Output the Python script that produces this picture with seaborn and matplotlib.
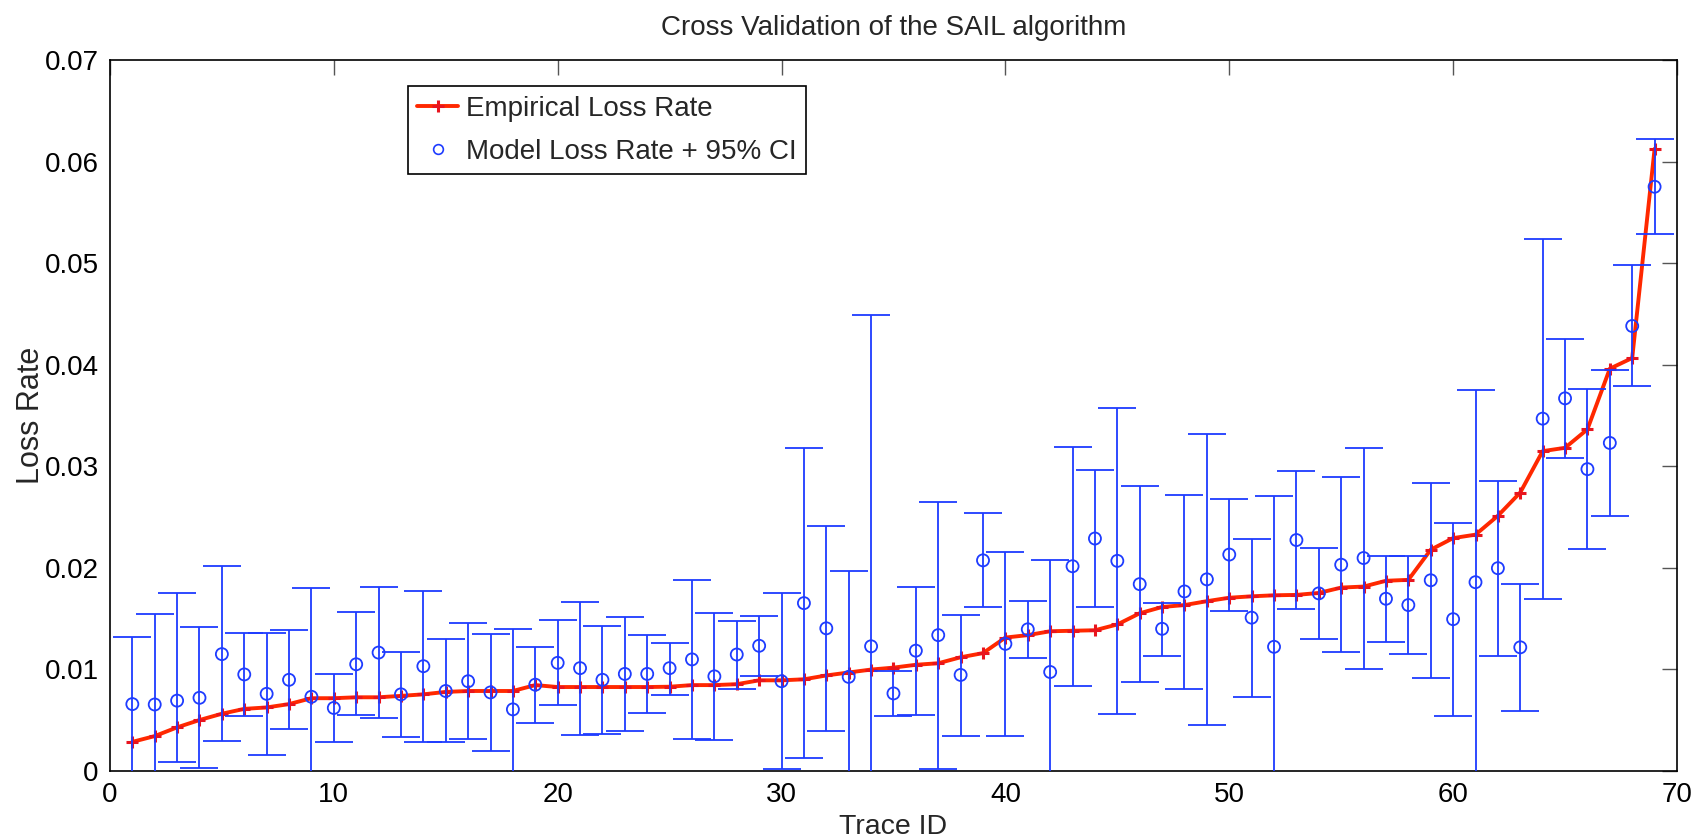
import numpy as np
import pandas as pd
import matplotlib
matplotlib.use("Agg")
import matplotlib.pyplot as plt
import seaborn as sns
from matplotlib.lines import Line2D

# ---- data ----
trace_id = list(range(1, 70))
empirical = [0.00287, 0.00344, 0.00430, 0.00502, 0.00564, 0.00612, 0.00626, 0.00659, 0.00717, 0.00717,
             0.00726, 0.00726, 0.00740, 0.00755, 0.00779, 0.00788, 0.00788, 0.00788, 0.00846, 0.00827,
             0.00827, 0.00827, 0.00827, 0.00827, 0.00830, 0.00846, 0.00846, 0.00855, 0.00893, 0.00893,
             0.00903, 0.00941, 0.00970, 0.00999, 0.01018, 0.01046, 0.01061, 0.01120, 0.01161, 0.01314,
             0.01338, 0.01376, 0.01381, 0.01386, 0.01443, 0.01553, 0.01615, 0.01634, 0.01672, 0.01706,
             0.01720, 0.01730, 0.01734, 0.01753, 0.01806, 0.01816, 0.01873, 0.01882, 0.02179, 0.02293,
             0.02327, 0.02513, 0.02742, 0.03149, 0.03182, 0.03364, 0.03961, 0.04066, 0.06125]
model = [0.00659, 0.00655, 0.00693, 0.00721, 0.01151, 0.00951, 0.00760, 0.00898, 0.00731, 0.00621,
         0.01051, 0.01166, 0.00755, 0.01032, 0.00788, 0.00884, 0.00774, 0.00607, 0.00850, 0.01065,
         0.01013, 0.00898, 0.00956, 0.00956, 0.01013, 0.01099, 0.00932, 0.01147, 0.01233, 0.00884,
         0.01653, 0.01405, 0.00927, 0.01228, 0.00764, 0.01185, 0.01338, 0.00946, 0.02074, 0.01252,
         0.01395, 0.00975, 0.02016, 0.02289, 0.02069, 0.01840, 0.01400, 0.01768, 0.01887, 0.02131,
         0.01510, 0.01223, 0.02274, 0.01749, 0.02031, 0.02097, 0.01696, 0.01634, 0.01878, 0.01495,
         0.01859, 0.01997, 0.01218, 0.03469, 0.03669, 0.02972, 0.03230, 0.04381, 0.05752]
ci_upper = [0.01319, 0.01543, 0.01749, 0.01414, 0.02016, 0.01362, 0.01362, 0.01390, 0.01806, 0.00960,
            0.01562, 0.01811, 0.01175, 0.01777, 0.01300, 0.01457, 0.01352, 0.01400, 0.01223, 0.01486,
            0.01667, 0.01429, 0.01515, 0.01338, 0.01261, 0.01882, 0.01553, 0.01481, 0.01529, 0.01749,
            0.03177, 0.02413, 0.01968, 0.04486, 0.00989, 0.01811, 0.02647, 0.01538, 0.02537, 0.02155,
            0.01672, 0.02078, 0.03187, 0.02967, 0.03574, 0.02809, 0.01653, 0.02714, 0.03321, 0.02680,
            0.02289, 0.02709, 0.02957, 0.02193, 0.02891, 0.03182, 0.02121, 0.02112, 0.02833, 0.02441,
            0.03751, 0.02852, 0.01840, 0.05241, 0.04257, 0.03760, 0.03951, 0.04979, 0.06221]
ci_lower = [-0.00100, -0.00100, 0.00086, 0.00033, 0.00296, 0.00540, 0.00162, 0.00411, -0.00100, 0.00287,
            0.00550, 0.00521, 0.00334, 0.00287, 0.00282, 0.00311, 0.00201, -0.00100, 0.00473, 0.00650,
            0.00354, 0.00363, 0.00397, 0.00569, 0.00750, 0.00311, 0.00301, 0.00812, 0.00932, 0.00024,
            0.00129, 0.00397, -0.00100, -0.00100, 0.00540, 0.00550, 0.00024, 0.00349, 0.01610, 0.00349,
            0.01113, -0.00100, 0.00841, 0.01610, 0.00564, 0.00874, 0.01137, 0.00812, 0.00449, 0.01577,
            0.00731, -0.00100, 0.01591, 0.01304, 0.01171, 0.01003, 0.01271, 0.01151, 0.00917, 0.00545,
            -0.00100, 0.01137, 0.00592, 0.01696, 0.03086, 0.02183, 0.02513, 0.03789, 0.05284]

x_ticks = [0, 10, 20, 30, 40, 50, 60, 70]
y_ticks = [0, 0.01, 0.02, 0.03, 0.04, 0.05, 0.06, 0.07]
y_tick_labels = ["0", "0.01", "0.02", "0.03", "0.04", "0.05", "0.06", "0.07"]

title = "Cross Validation of the SAIL algorithm"
x_label = "Trace ID"
y_label = "Loss Rate"
emp_label = "Empirical Loss Rate"
model_label = "Model Loss Rate + 95% CI"

df = pd.DataFrame({"trace": trace_id, "empirical": empirical, "model": model,
                   "upper": ci_upper, "lower": ci_lower})

# ---- styling ----
sns.set_theme(style="white")
plt.rcParams["font.family"] = ["Liberation Sans", "DejaVu Sans"]

RED = "#ff2800"
BLUE = "#1e3cff"

fig = plt.figure(figsize=(17.02, 8.40), dpi=100)
ax = fig.add_axes([0.0646, 0.0821, 0.9207, 0.8465])

# empirical line (drawn below the CI bars, as in the reference)
sns.lineplot(data=df, x="trace", y="empirical", ax=ax, color=RED, linewidth=2.8,
             marker="+", markersize=8, markeredgewidth=2.2, markeredgecolor="#e8141e",
             zorder=2, label=emp_label, legend=False)

# error bars (95% CI)
yerr = np.vstack([df["model"] - df["lower"], df["upper"] - df["model"]])
ax.errorbar(df["trace"], df["model"], yerr=yerr, fmt="none", ecolor=BLUE,
            elinewidth=1.3, capsize=14, capthick=1.3, zorder=3)

# model circles
sns.scatterplot(data=df, x="trace", y="model", ax=ax, marker="o", s=75,
                facecolors="none", edgecolor=BLUE, linewidth=1.3, zorder=4,
                label=model_label, legend=False)

ax.set_xlim(0, 70)
ax.set_ylim(0, 0.07)
ax.set_xticks(x_ticks)
ax.set_yticks(y_ticks)
ax.set_yticklabels(y_tick_labels)
ax.tick_params(axis="both", which="major", direction="in", length=11, width=1,
               color="#555555", labelsize=20, top=True, right=True,
               labelcolor="black", pad=8)
for sp in ax.spines.values():
    sp.set_color("black")
    sp.set_linewidth(1.2)

ax.set_title(title, fontsize=20, pad=18)
ax.set_xlabel(x_label, fontsize=20.5, labelpad=4)
ax.set_ylabel(y_label, fontsize=22)
ax.yaxis.set_label_coords(-0.041, 0.5)

# legend
h_emp = Line2D([], [], color=RED, linewidth=2.8, marker="+", markersize=8,
               markeredgewidth=2.2, markeredgecolor="#e8141e")
h_mod = Line2D([], [], linestyle="none", marker="o", markersize=7,
               markerfacecolor="none", markeredgecolor=BLUE, markeredgewidth=1.2)
leg = ax.legend([h_emp, h_mod], [emp_label, model_label], loc="upper left",
                bbox_to_anchor=(0.19, 0.963), fontsize=20, frameon=True,
                fancybox=False, edgecolor="black", framealpha=1,
                handlelength=1.45, handletextpad=0.3, borderpad=0.35,
                borderaxespad=0, labelspacing=0.6)
leg.get_frame().set_linewidth(1.2)

fig.savefig("out.png", dpi=100)
